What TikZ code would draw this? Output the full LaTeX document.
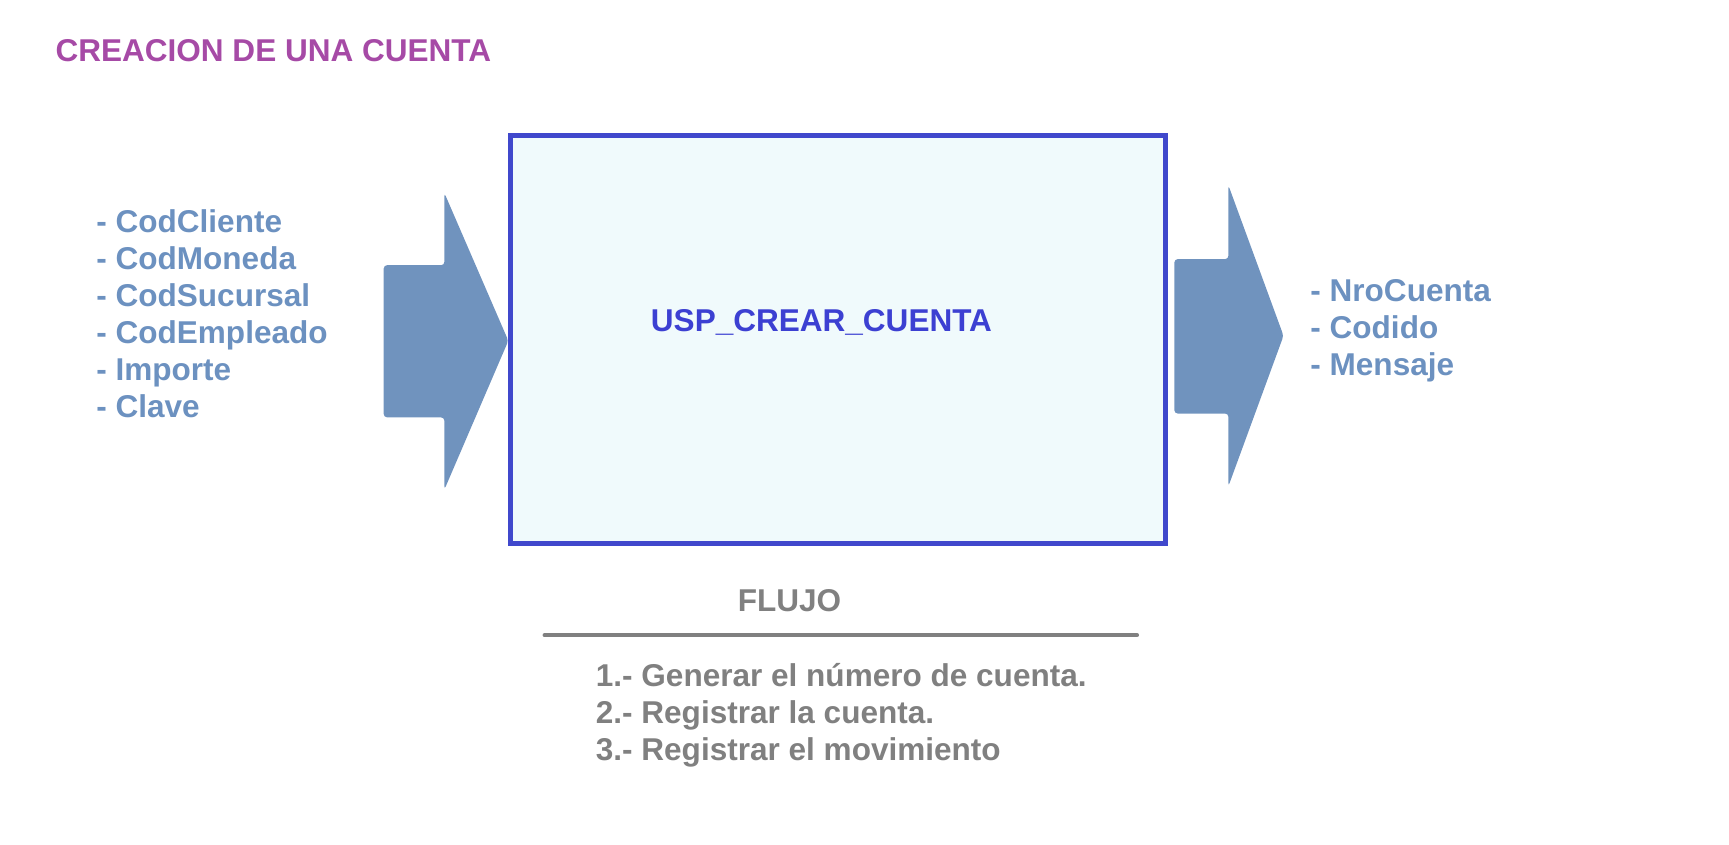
\documentclass[tikz,border=0pt]{standalone}
\usepackage{fontspec}
\setmainfont{Liberation Sans}

\definecolor{titulomorado}{RGB}{166,74,166}
\definecolor{azulgris}{RGB}{108,145,192}
\definecolor{azulflecha}{RGB}{112,147,190}
\definecolor{azulcaja}{RGB}{64,72,204}
\definecolor{fondocaja}{RGB}{240,250,252}
\definecolor{azulusp}{RGB}{60,64,210}
\definecolor{grisflujo}{RGB}{128,128,128}

\begin{document}
\begin{tikzpicture}[x=0.5pt,y=-0.5pt]
        \tikzstyle{every node}=[inner sep=0pt, font=\fontsize{14.3}{16.7}\selectfont\bfseries]
        \tikzstyle{lista}=[anchor=west, align=left, text=azulgris]
        \tikzstyle{flecha}=[fill=azulflecha, rounded corners=1.5]

        \useasboundingbox (0,0) rectangle (1568,766.3);

        \node[anchor=west, text=titulomorado] (titulo) at (50,46) {CREACION DE UNA CUENTA};

        % caja del procedimiento
        \node[draw=azulcaja, line width=2pt, fill=fondocaja, minimum width=297pt, minimum height=185pt] (proc) at (760,308) {};
        \node[text=azulusp] (usp) at (745,292) {USP\_CREAR\_CUENTA};

        % entradas
        \node[lista] (entradas) at (87,284.5) {- CodCliente\\- CodMoneda\\- CodSucursal\\- CodEmpleado\\- Importe\\- Clave};
        \fill[flecha] (348,240.5) -- (403,240.5) -- (403,175) -- (461,309) -- (403,444) -- (403,378.5) -- (348,378.5) -- cycle;

        % salidas
        \fill[flecha] (1065,235) -- (1114,235) -- (1114,168) -- (1164,304.5) -- (1114,441) -- (1114,375) -- (1065,375) -- cycle;
        \node[lista] (salidas) at (1188,300) {- NroCuenta\\- Codido\\- Mensaje};

        % flujo
        \node[text=grisflujo] (flujo) at (716,545) {FLUJO};
        \draw[grisflujo, line width=2pt, line cap=round] (494,576) -- (1031,576);
        \node[anchor=west, align=left, text=grisflujo] (pasos) at (540,648.5) {1.- Generar el número de cuenta.\\2.- Registrar la cuenta.\\3.- Registrar el movimiento};
    \end{tikzpicture}
\end{document}
